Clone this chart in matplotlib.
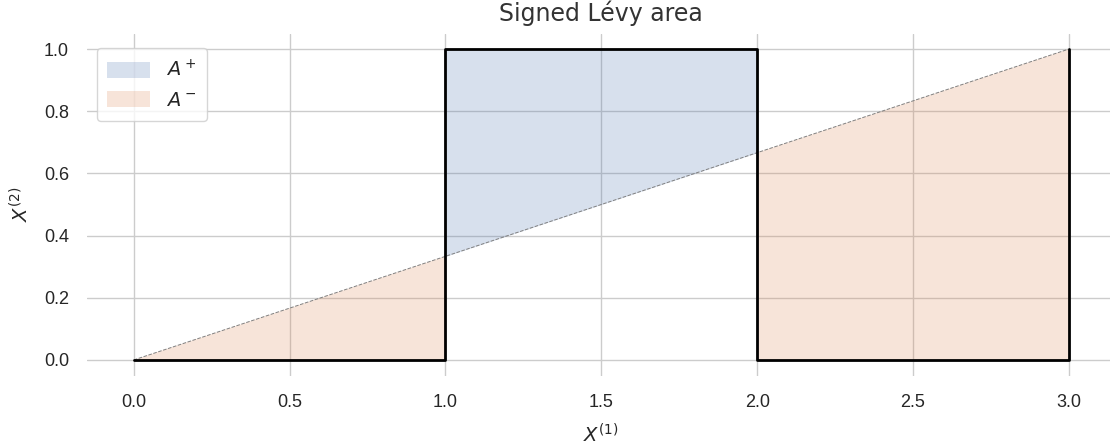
import matplotlib
matplotlib.use("Agg")
import matplotlib.pyplot as plt
import numpy as np
import seaborn as sns

# piecewise-linear path and its chord
path_x = [0.0, 1.0, 1.0, 2.0, 2.0, 3.0, 3.0]
path_y = [0.0, 0.0, 1.0, 1.0, 0.0, 0.0, 1.0]
x_ticks = [0.0, 0.5, 1.0, 1.5, 2.0, 2.5, 3.0]
y_ticks = [0.0, 0.2, 0.4, 0.6, 0.8, 1.0]

sns.set_theme(style="whitegrid")
plt.rcParams['font.family'] = ['Liberation Sans', 'DejaVu Sans']
plt.rcParams['mathtext.fontset'] = 'dejavusans'

px = np.array(path_x)
py = np.array(path_y)
chord = py[0] + (py[-1] - py[0]) * (px - px[0]) / (px[-1] - px[0])

fig = plt.figure(figsize=(11.1, 4.48), dpi=100)
ax = fig.add_axes([87 / 1110, 1 - 375.5 / 448, 1028.6 / 1110, 342 / 448])

blue, orange = sns.color_palette()[0], sns.color_palette()[1]
ax.fill_between(px, py, chord, where=py >= chord + 1e-9, color=blue, alpha=0.22,
                linewidth=0, label=r"$A^+$")
ax.fill_between(px, py, chord, where=py <= chord + 1e-9, color=orange, alpha=0.22,
                linewidth=0, label=r"$A^-$")
ax.plot([px[0], px[-1]], [py[0], py[-1]], color="grey", linestyle="--", linewidth=0.7)
ax.plot(px, py, color="black", linewidth=2)

ax.set_xlim(-0.15, 3.15)
ax.set_ylim(-0.05, 1.05)
ax.set_xticks(x_ticks)
ax.set_yticks(y_ticks)
ax.tick_params(labelsize=13, pad=7)
ax.set_xlabel(r"$X^{(1)}$", fontsize=14, labelpad=9)
ax.set_ylabel(r"$X^{(2)}$", fontsize=14, labelpad=8)
ax.set_title("Signed Lévy area", fontsize=17, pad=9, family="DejaVu Sans",
             color="0.2")
for s in ax.spines.values():
    s.set_visible(False)
ax.legend(loc="upper left", fontsize=14, handlelength=2.2, handleheight=0.9,
          labelspacing=0.55, borderpad=0.55, bbox_to_anchor=(0.0, 0.985))

fig.savefig("out.png", dpi=100)
